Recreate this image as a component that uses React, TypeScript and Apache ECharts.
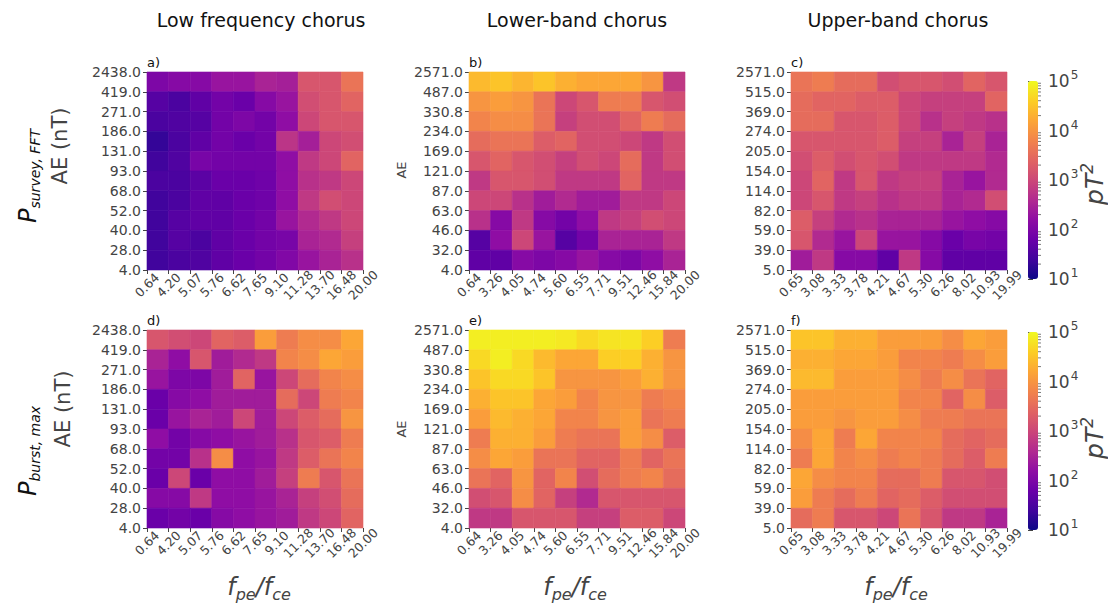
import React, { useEffect, useRef } from 'react';
import * as echarts from 'echarts';

// ---------- tick labels (cell edges) ----------
const aeEdgesLow = ['4.0', '28.0', '40.0', '52.0', '68.0', '93.0', '131.0', '186.0', '271.0', '419.0', '2438.0'];
const fEdgesLow = ['0.64', '4.20', '5.07', '5.76', '6.62', '7.65', '9.10', '11.28', '13.70', '16.48', '20.00'];
const aeEdgesLB = ['4.0', '32.0', '46.0', '63.0', '87.0', '121.0', '169.0', '234.0', '330.8', '487.0', '2571.0'];
const fEdgesLB = ['0.64', '3.26', '4.05', '4.74', '5.60', '6.55', '7.71', '9.51', '12.46', '15.84', '20.00'];
const aeEdgesUB = ['5.0', '39.0', '59.0', '82.0', '114.0', '154.0', '205.0', '274.0', '369.0', '515.0', '2571.0'];
const fEdgesUB = ['0.65', '3.08', '3.33', '3.78', '4.21', '4.67', '5.30', '6.26', '8.02', '10.93', '19.99'];

const columnTitles = ['Low frequency chorus', 'Lower-band chorus', 'Upper-band chorus'];
const panelLetters = ['a)', 'b)', 'c)', 'd)', 'e)', 'f)'];
const cbarDecades = [1, 2, 3, 4, 5];
const cbarMinor = [20, 30, 40, 50, 60, 70, 80, 90, 200, 300, 400, 500, 600, 700, 800, 900,
  2000, 3000, 4000, 5000, 6000, 7000, 8000, 9000, 20000, 30000, 40000, 50000, 60000, 70000, 80000, 90000];

// ---------- values: log10(pT^2), rows listed from top (highest AE) to bottom ----------
const surveyLow = [
  [2.0, 2.1, 2.1, 2.3, 2.3, 2.5, 2.45, 3.2, 3.2, 3.6],
  [1.6, 1.5, 1.7, 1.9, 1.8, 2.1, 2.3, 3.1, 3.2, 3.4],
  [1.5, 1.55, 1.6, 1.9, 2.0, 1.9, 2.2, 3.0, 3.2, 3.2],
  [1.3, 1.5, 1.7, 1.9, 1.8, 1.9, 2.75, 2.45, 3.0, 3.1],
  [1.4, 1.55, 1.95, 1.9, 1.9, 1.9, 2.2, 2.8, 3.0, 3.4],
  [1.5, 1.5, 1.65, 1.8, 1.8, 1.85, 2.2, 2.7, 2.8, 3.0],
  [1.4, 1.5, 1.7, 1.7, 1.8, 1.85, 2.2, 2.8, 3.1, 3.0],
  [1.4, 1.6, 1.7, 1.7, 1.8, 1.9, 2.3, 2.6, 2.8, 3.0],
  [1.4, 1.6, 1.5, 1.7, 1.8, 1.9, 1.95, 2.5, 2.6, 2.9],
  [1.4, 1.5, 1.55, 1.7, 1.8, 1.9, 2.05, 2.3, 2.5, 2.7],
];
const surveyLB = [
  [4.4, 4.5, 4.35, 4.5, 4.3, 4.2, 4.2, 4.2, 4.0, 2.8],
  [4.0, 4.1, 4.0, 3.6, 3.0, 3.2, 3.7, 3.7, 3.2, 3.1],
  [3.8, 3.9, 3.9, 3.6, 2.9, 3.1, 3.1, 3.4, 3.7, 3.5],
  [3.5, 3.6, 3.6, 3.3, 3.4, 3.1, 3.1, 3.0, 2.8, 3.1],
  [3.2, 3.4, 3.2, 3.1, 2.9, 3.1, 3.0, 3.5, 2.8, 3.1],
  [2.8, 3.2, 3.2, 3.1, 2.8, 2.8, 2.8, 3.4, 2.8, 2.8],
  [3.0, 3.0, 2.7, 2.4, 2.6, 2.4, 2.4, 2.8, 2.8, 3.0],
  [2.7, 2.1, 2.8, 2.1, 1.9, 2.2, 2.8, 2.9, 3.1, 3.0],
  [1.6, 2.2, 3.0, 2.3, 1.6, 1.9, 2.5, 2.5, 2.5, 2.8],
  [1.7, 1.7, 2.1, 2.0, 2.1, 2.3, 2.1, 2.0, 2.2, 2.5],
];
const surveyUB = [
  [3.6, 3.7, 3.5, 3.5, 3.1, 3.2, 3.2, 3.1, 3.4, 3.2],
  [3.5, 3.4, 3.4, 3.3, 3.3, 3.0, 2.9, 2.9, 2.9, 3.4],
  [3.5, 3.5, 3.2, 3.2, 3.3, 3.0, 2.7, 2.9, 2.8, 2.7],
  [3.2, 3.2, 3.2, 3.2, 3.3, 2.9, 2.9, 2.5, 2.9, 2.5],
  [3.1, 3.3, 3.1, 3.2, 3.1, 2.8, 2.8, 2.8, 2.8, 2.6],
  [3.0, 3.4, 2.8, 3.2, 2.8, 2.9, 2.9, 2.5, 2.3, 2.6],
  [3.0, 3.2, 2.8, 2.9, 2.7, 2.8, 2.8, 2.5, 2.6, 3.1],
  [3.3, 2.9, 2.6, 2.7, 2.5, 2.5, 2.5, 2.3, 2.2, 2.1],
  [3.2, 2.6, 2.3, 3.0, 2.3, 2.3, 2.1, 1.8, 1.95, 1.9],
  [2.4, 2.8, 2.1, 2.1, 1.7, 2.8, 2.1, 1.7, 1.7, 1.7],
];
const burstLow = [
  [3.2, 3.1, 3.0, 3.4, 3.3, 4.1, 3.7, 3.9, 3.9, 4.2],
  [2.5, 2.2, 3.2, 2.4, 2.6, 2.8, 3.8, 3.9, 4.2, 4.1],
  [2.3, 2.0, 2.0, 2.4, 3.4, 2.3, 3.0, 3.5, 3.8, 3.9],
  [1.8, 2.1, 2.2, 2.4, 2.4, 2.4, 3.5, 3.0, 3.7, 3.8],
  [1.8, 2.3, 2.5, 2.4, 3.0, 2.4, 3.0, 3.3, 3.5, 4.0],
  [2.2, 1.9, 2.1, 2.2, 2.3, 2.4, 2.7, 3.2, 3.3, 3.7],
  [1.9, 1.9, 2.7, 3.9, 2.2, 2.3, 2.8, 3.3, 3.6, 3.8],
  [1.8, 3.0, 1.8, 2.2, 2.2, 2.4, 2.9, 3.7, 3.2, 3.6],
  [2.1, 2.1, 2.8, 2.2, 2.2, 2.3, 2.5, 2.9, 3.1, 3.5],
  [1.8, 1.9, 1.8, 2.1, 2.2, 2.3, 2.4, 2.8, 3.0, 3.4],
];
const burstLB = [
  [4.9, 4.9, 4.9, 4.9, 4.85, 4.7, 4.8, 4.8, 4.6, 3.7],
  [4.7, 4.9, 4.7, 4.4, 4.2, 4.2, 4.6, 4.6, 4.3, 4.0],
  [4.5, 4.7, 4.7, 4.5, 4.0, 4.0, 4.0, 4.1, 4.3, 4.0],
  [4.3, 4.5, 4.5, 4.2, 4.1, 3.8, 4.0, 4.0, 3.7, 3.8],
  [4.1, 4.4, 4.3, 4.2, 3.8, 3.8, 4.0, 4.1, 3.6, 3.7],
  [3.7, 4.3, 4.3, 4.1, 3.7, 3.6, 3.6, 4.1, 3.9, 3.3],
  [3.9, 4.2, 4.1, 3.6, 3.6, 3.4, 3.4, 3.7, 3.4, 3.6],
  [3.6, 3.4, 4.0, 3.4, 3.8, 3.1, 3.5, 3.7, 3.8, 3.5],
  [3.1, 3.2, 3.9, 3.4, 2.9, 2.6, 3.2, 3.2, 3.2, 3.2],
  [2.8, 2.8, 3.2, 3.2, 3.2, 2.9, 2.9, 3.3, 3.3, 3.0],
];
const burstUB = [
  [4.5, 4.5, 4.3, 4.3, 4.1, 4.1, 4.1, 3.9, 4.2, 4.1],
  [4.3, 4.3, 4.2, 4.2, 4.1, 3.8, 3.8, 3.7, 3.9, 4.1],
  [4.4, 4.4, 4.1, 4.1, 4.1, 3.9, 3.7, 3.9, 3.6, 3.4],
  [4.1, 4.1, 4.1, 4.1, 4.1, 3.8, 3.8, 3.4, 3.9, 3.3],
  [4.1, 4.1, 4.0, 4.1, 4.1, 3.9, 3.7, 3.7, 3.6, 3.6],
  [3.9, 4.2, 3.7, 4.2, 3.8, 3.8, 3.8, 3.5, 3.4, 3.5],
  [3.7, 4.2, 3.8, 3.9, 3.7, 3.8, 3.7, 3.5, 3.3, 3.7],
  [4.2, 3.9, 3.8, 3.8, 3.5, 3.5, 3.7, 3.2, 3.2, 3.1],
  [4.1, 3.7, 3.5, 3.7, 3.4, 3.5, 3.3, 3.1, 3.1, 3.1],
  [3.5, 3.7, 3.2, 3.2, 3.0, 3.6, 3.2, 2.8, 2.8, 2.5],
];

const plasma = ['#0d0887', '#41049d', '#6a00a8', '#8f0da4', '#b12a90', '#cc4778',
  '#e16462', '#f2844b', '#fca636', '#fcce25', '#f0f921'];

const FONT = 'DejaVu Sans';
const TICK_COLOR = '#444';

const panels = [
  { values: surveyLow, rows: aeEdgesLow, cols: fEdgesLow },
  { values: surveyLB, rows: aeEdgesLB, cols: fEdgesLB },
  { values: surveyUB, rows: aeEdgesUB, cols: fEdgesUB },
  { values: burstLow, rows: aeEdgesLow, cols: fEdgesLow },
  { values: burstLB, rows: aeEdgesLB, cols: fEdgesLB },
  { values: burstUB, rows: aeEdgesUB, cols: fEdgesUB },
];

const gridLefts = [147, 469, 791];
const gridTops = [72, 330];
const GW = 216;
const GH = 198;
const cbarTops = [81, 332];

function buildOption() {
  const grid: any[] = [];
  const xAxis: any[] = [];
  const yAxis: any[] = [];
  const series: any[] = [];
  const graphic: any[] = [];

  panels.forEach((p, i) => {
    const col = i % 3;
    const row = Math.floor(i / 3);
    grid.push({ left: gridLefts[col], top: gridTops[row], width: GW, height: GH, containLabel: false });
    xAxis.push({
      type: 'value', gridIndex: i, min: 0, max: 10, interval: 1,
      axisLine: { show: false },
      splitLine: { show: false },
      axisTick: { show: true, length: 4, lineStyle: { color: TICK_COLOR } },
      axisLabel: {
        rotate: 45, align: 'center', verticalAlign: 'middle', margin: 15,
        fontSize: 12.5, fontFamily: FONT, color: TICK_COLOR,
        showMinLabel: true, showMaxLabel: true,
        formatter: (v: number) => p.cols[Math.round(v)] ?? '',
      },
    });
    yAxis.push({
      type: 'value', gridIndex: i, min: 0, max: 10, interval: 1,
      axisLine: { show: false },
      splitLine: { show: false },
      axisTick: { show: true, length: 4, lineStyle: { color: TICK_COLOR } },
      axisLabel: {
        margin: 6, fontSize: 14, fontFamily: FONT, color: TICK_COLOR,
        showMinLabel: true, showMaxLabel: true,
        formatter: (v: number) => p.rows[Math.round(v)] ?? '',
      },
    });
    const data: number[][] = [];
    p.values.forEach((rowVals, r) => {
      rowVals.forEach((v, c) => data.push([c, 9 - r, v]));
    });
    series.push({
      type: 'custom', xAxisIndex: i, yAxisIndex: i,
      dimensions: ['x', 'y', 'v'],
      encode: { x: 0, y: 1 },
      data,
      renderItem: (_params: any, api: any) => {
        const x = api.value(0);
        const y = api.value(1);
        const p0 = api.coord([x, y + 1]);
        const p1 = api.coord([x + 1, y]);
        const color = api.visual('color');
        return {
          type: 'rect',
          shape: { x: p0[0], y: p0[1], width: p1[0] - p0[0], height: p1[1] - p0[1] },
          style: { fill: color, stroke: color, lineWidth: 0.6 },
        };
      },
    });
    graphic.push({
      type: 'text', left: gridLefts[col], top: gridTops[row] - 16,
      style: { text: panelLetters[i], fontSize: 13, fontFamily: FONT, fill: '#111' },
    });
  });

  // colorbar axes
  cbarTops.forEach((top, k) => {
    const gi = 6 + k;
    grid.push({ left: 1028, top, width: 10, height: 198 });
    xAxis.push({ type: 'value', gridIndex: gi, min: 0, max: 1, show: false });
    yAxis.push({
      type: 'value', gridIndex: gi, min: 1, max: 5, interval: 1, position: 'right',
      axisLine: { show: false }, splitLine: { show: false },
      axisTick: { show: true, length: 5, lineStyle: { color: TICK_COLOR } },
      axisLabel: {
        margin: 10, color: TICK_COLOR, fontFamily: FONT,
        formatter: (v: number) => (cbarDecades.includes(v) ? `{b|10}{s|${v}}` : ''),
        rich: {
          b: { fontSize: 17, fontFamily: FONT, color: TICK_COLOR, lineHeight: 20 },
          s: { fontSize: 12, fontFamily: FONT, color: TICK_COLOR, lineHeight: 12, padding: [0, 0, 12, 1] },
        },
      },
    });
    series.push({
      type: 'custom', xAxisIndex: gi, yAxisIndex: gi,
      data: cbarMinor.map((m) => [1, m]),
      silent: true,
      renderItem: (_params: any, api: any) => {
        const pt = api.coord([1, Math.log10(api.value(1))]);
        return {
          type: 'line',
          shape: { x1: pt[0], y1: pt[1], x2: pt[0] + 3, y2: pt[1] },
          style: { stroke: TICK_COLOR, lineWidth: 0.7 },
        };
      },
    });
  });

  // column titles
  const titleCenters = [261, 577, 898];
  columnTitles.forEach((t, c) => {
    graphic.push({
      type: 'text', x: titleCenters[c], y: 20,
      style: { text: t, fontSize: 19, fontFamily: FONT, fill: '#111', align: 'center', verticalAlign: 'middle' },
    });
  });

  // row labels (left)
  const rowLabels = [
    { sub: 'survey, FFT', px: 28, py: 176, ax: 60, ay: 146 },
    { sub: 'burst, max', px: 28, py: 451, ax: 63, ay: 409 },
  ];
  rowLabels.forEach((r) => {
    graphic.push({
      type: 'text', x: r.px, y: r.py, rotation: Math.PI / 2,
      style: {
        text: `{p|P}{s|${r.sub}}`, align: 'center', verticalAlign: 'middle',
        rich: {
          p: { fontSize: 24, fontFamily: FONT, fontStyle: 'italic', fill: '#111', lineHeight: 26 },
          s: { fontSize: 14, fontFamily: FONT, fontStyle: 'italic', fill: '#111', lineHeight: 14, padding: [13, 0, 0, 0] },
        },
      },
    });
    graphic.push({
      type: 'text', x: r.ax, y: r.ay, rotation: Math.PI / 2,
      style: { text: 'AE (nT)', fontSize: 21, fontFamily: FONT, fill: TICK_COLOR, align: 'center', verticalAlign: 'middle' },
    });
  });
  // "AE" labels of middle column
  [170, 429].forEach((y) => {
    graphic.push({
      type: 'text', x: 401, y, rotation: Math.PI / 2,
      style: { text: 'AE', fontSize: 13, fontFamily: FONT, fill: TICK_COLOR, align: 'center', verticalAlign: 'middle' },
    });
  });
  // x-axis titles
  titleCenters.forEach((cx) => {
    graphic.push({
      type: 'text', x: cx - 2, y: 587,
      style: {
        text: '{f|f}{s|pe}{f|/f}{s|ce}', align: 'center', verticalAlign: 'middle',
        rich: {
          f: { fontSize: 24, fontFamily: FONT, fontStyle: 'italic', fill: TICK_COLOR, lineHeight: 26 },
          s: { fontSize: 16, fontFamily: FONT, fontStyle: 'italic', fill: TICK_COLOR, lineHeight: 16, padding: [14, 0, 0, 0] },
        },
      },
    });
  });
  // colorbar labels pT^2
  [184, 438].forEach((y) => {
    graphic.push({
      type: 'text', x: 1094, y, rotation: Math.PI / 2,
      style: {
        text: '{p|pT}{s|2}', align: 'center', verticalAlign: 'middle',
        rich: {
          p: { fontSize: 25, fontFamily: FONT, fontStyle: 'italic', fill: TICK_COLOR, lineHeight: 28 },
          s: { fontSize: 17, fontFamily: FONT, fontStyle: 'italic', fill: TICK_COLOR, lineHeight: 17, padding: [0, 0, 14, 0] },
        },
      },
    });
  });

  const visualMap = cbarTops.map((top, k) => ({
    type: 'continuous', min: 1, max: 5, dimension: 2,
    seriesIndex: k === 0 ? [0, 1, 2] : [3, 4, 5],
    left: 1028, top, itemWidth: 10, itemHeight: 198, padding: 0,
    calculable: false, text: null, showLabel: false, hoverLink: false,
    inRange: { color: plasma },
  }));

  return {
    animation: false,
    backgroundColor: '#fff',
    grid, xAxis, yAxis, series, visualMap, graphic,
  };
}

export default function App() {
  const ref = useRef<HTMLDivElement>(null);
  useEffect(() => {
    const chart = echarts.init(ref.current!, null, { renderer: 'svg' });
    chart.setOption(buildOption() as any);
    return () => chart.dispose();
  }, []);
  return (
    <div
      ref={ref}
      style={{ position: 'fixed', left: 0, top: 0, width: 1108, height: 605, background: '#fff' }}
    />
  );
}
